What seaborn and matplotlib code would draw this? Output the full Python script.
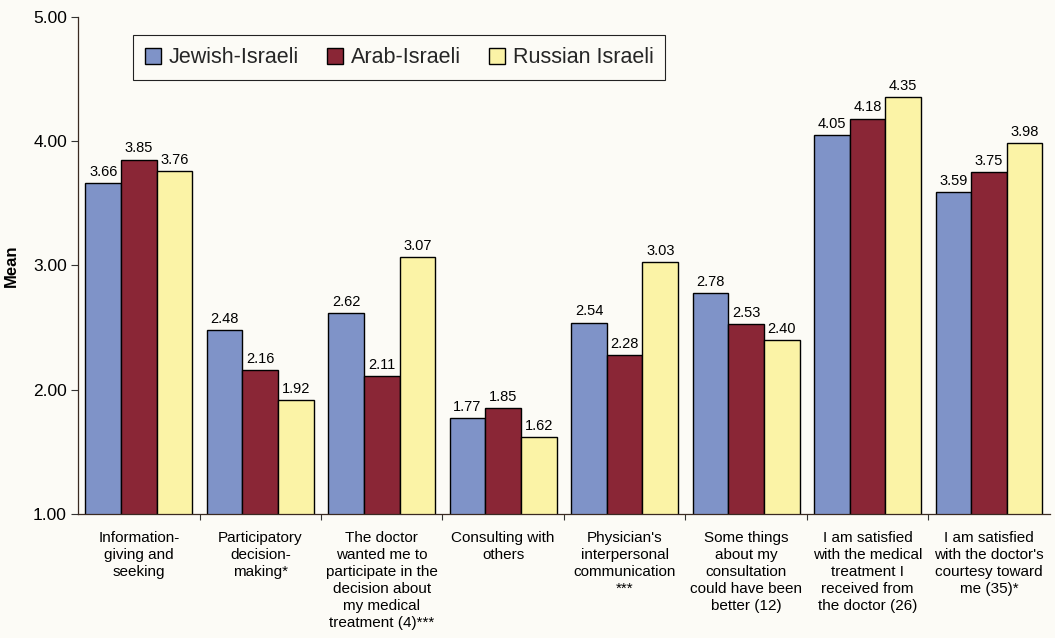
import matplotlib
matplotlib.use("Agg")
import matplotlib.pyplot as plt
import seaborn as sns
import pandas as pd
import numpy as np

categories = [
    "Information-\ngiving and\nseeking",
    "Participatory\ndecision-\nmaking*",
    "The doctor\nwanted me to\nparticipate in the\ndecision about\nmy medical\ntreatment (4)***",
    "Consulting with\nothers",
    "Physician's\ninterpersonal\ncommunication\n***",
    "Some things\nabout my\nconsultation\ncould have been\nbetter (12)",
    "I am satisfied\nwith the medical\ntreatment I\nreceived from\nthe doctor (26)",
    "I am satisfied\nwith the doctor's\ncourtesy toward\nme (35)*",
]
groups = ["Jewish-Israeli", "Arab-Israeli", "Russian Israeli"]
jewish = [3.66, 2.48, 2.62, 1.77, 2.54, 2.78, 4.05, 3.59]
arab = [3.85, 2.16, 2.11, 1.85, 2.28, 2.53, 4.18, 3.75]
russian = [3.76, 1.92, 3.07, 1.62, 3.03, 2.40, 4.35, 3.98]
yticks = [1.00, 2.00, 3.00, 4.00, 5.00]

colors = ["#7f93c8", "#8a2636", "#fbf3a6"]
bg = "#fcfbf6"

df = pd.DataFrame({
    "category": categories * 3,
    "group": [groups[0]] * 8 + [groups[1]] * 8 + [groups[2]] * 8,
    "mean": jewish + arab + russian,
})

sns.set_theme(style="white")
plt.rcParams["font.family"] = ["Liberation Sans", "DejaVu Sans"]

fig = plt.figure(figsize=(10.55, 6.38), dpi=100, facecolor=bg)
ax = fig.add_axes([0.074, 0.194, 0.921, 0.78])
ax.set_facecolor(bg)

sns.barplot(data=df, x="category", y="mean", hue="group", order=categories,
            hue_order=groups, palette=colors, width=0.88, saturation=1,
            edgecolor="black", linewidth=1.0, errorbar=None, ax=ax)

ax.set_ylim(1, 5)
ax.set_xlim(-0.5, len(categories) - 0.5)
ax.set_yticks(yticks)
ax.set_yticklabels([f"{v:.2f}" for v in yticks], fontsize=12.5, color="black")
ax.set_ylabel("Mean", fontsize=12, fontweight="bold", color="black", labelpad=10)
ax.set_xlabel("")

ax.set_xticks(range(len(categories)))
ax.set_xticklabels(categories, fontsize=11, linespacing=1.28, color="black")
ax.tick_params(axis="x", which="major", length=0, pad=12)
ax.set_xticks(np.arange(0.5, len(categories) - 0.5, 1.0), minor=True)
ax.tick_params(axis="x", which="minor", length=4, width=0.8, color="#333333",
               direction="out", bottom=True)
ax.tick_params(axis="y", length=5, width=0.8, color="#333333", direction="out",
               left=True, pad=3)

for side in ["top", "right"]:
    ax.spines[side].set_visible(False)
for side in ["left", "bottom"]:
    ax.spines[side].set_color("#3a2a22")
    ax.spines[side].set_linewidth(0.9)

for container in ax.containers:
    ax.bar_label(container, fmt="%.2f", fontsize=10.5, padding=3, color="black")

handles, labels = ax.get_legend_handles_labels()
ax.legend(handles, labels, loc="upper left", bbox_to_anchor=(0.057, 0.962),
          ncol=3, frameon=True, fancybox=False, edgecolor="#222222",
          facecolor=bg, framealpha=1, fontsize=15.5, handlelength=0.75,
          handleheight=0.75, handletextpad=0.35, columnspacing=1.3,
          borderpad=0.55, borderaxespad=0)
ax.get_legend().get_frame().set_linewidth(0.8)

fig.savefig("out.png", dpi=100, facecolor=bg)
